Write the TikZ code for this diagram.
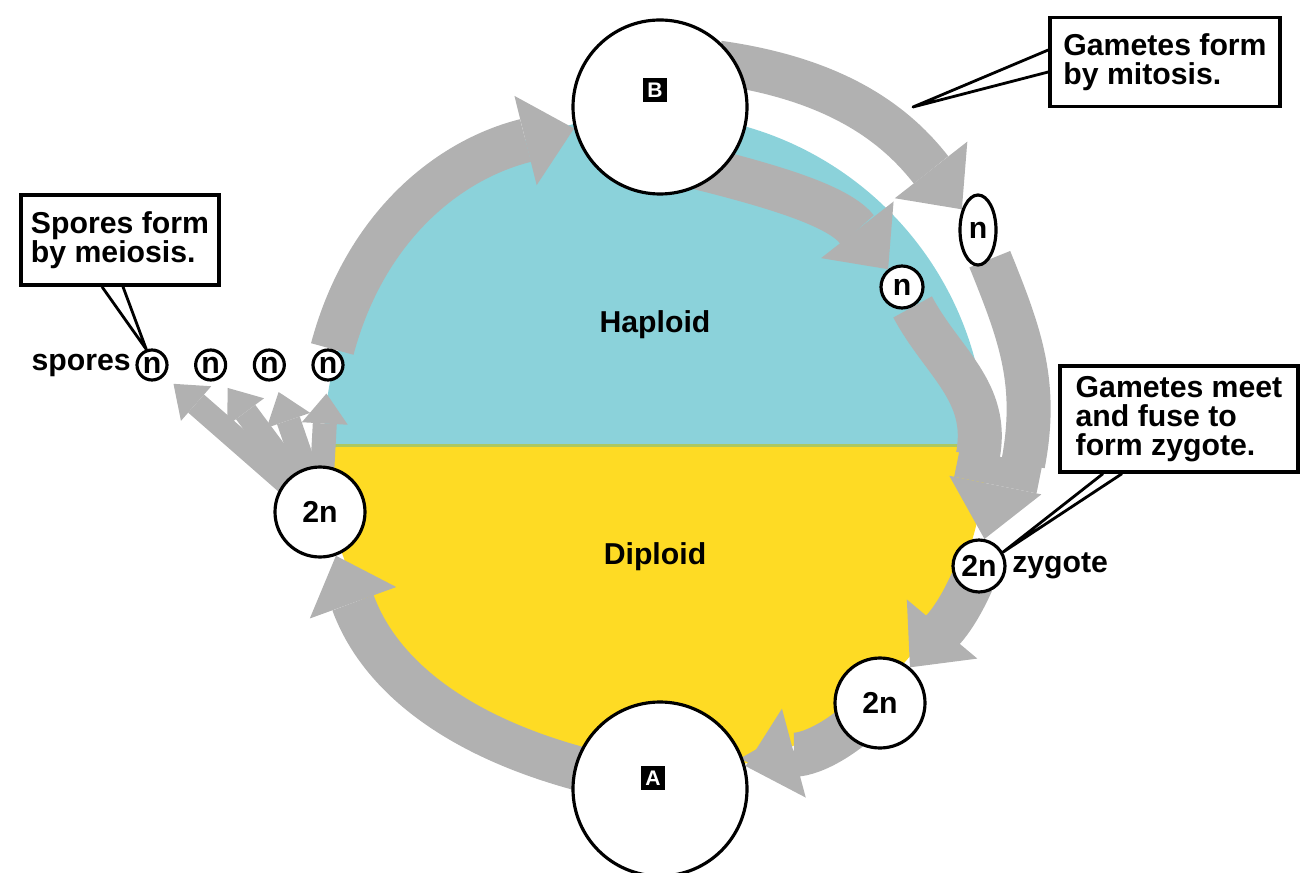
\documentclass[tikz,border=0pt]{standalone}
\usepackage{fontspec}
\newfontfamily\figfont{Liberation Sans}
\usepackage{tikz}
\usetikzlibrary{arrows.meta,positioning,shapes.geometric}
\definecolor{hapcyan}{RGB}{139,210,218}
\definecolor{dipyellow}{RGB}{254,219,36}
\definecolor{flowgray}{RGB}{177,177,177}
\definecolor{seam}{RGB}{172,200,96}
\pgfdeclarelayer{discs}
\pgfdeclarelayer{flows}
\pgfsetlayers{discs,flows,main}

\begin{document}
\begin{tikzpicture}[
	font = \figfont\bfseries\fontsize{8.6}{8.3}\selectfont,
	cell/.style = {circle, draw, line width=0.9pt, fill=white, inner sep=0pt},
	bigcell/.style = {cell, minimum size=17.4mm},
	spore/.style = {cell, minimum size=3mm},
	tagbox/.style = {fill=black, text=white, inner sep=0pt, minimum size=2.4mm,
		font=\figfont\bfseries\fontsize{6}{6}\selectfont},
	note/.style = {draw, line width=1pt, fill=white, align=left, inner sep=1mm},
	pointer/.style = {line width=0.8pt, line join=round},
	band/.style = {color=flowgray, line width=4.4mm},
	flow/.style = {band, -{Triangle[length=5mm,width=9.2mm,line width=0pt]}},
	flowhead/.style = {color=flowgray, line width=8.4mm, -{Triangle[length=5.5mm,width=9.4mm,line width=0pt]}},
	fan/.style = {color=flowgray, line width=2.4mm, -{Triangle[length=3mm,width=4.6mm,line width=0pt]},
		shorten >=1.2mm, shorten <=-1mm,
		preaction={draw=white, line width=2.8mm, -{Triangle[length=3.4mm,width=5.2mm,line width=0pt,fill=white]}}}
	]
	\useasboundingbox (-6.55,-4.27) rectangle (6.45,4.45);
	
	% haploid / diploid halves
	\begin{pgfonlayer}{discs}
	\fill[hapcyan] (3.31,0) arc[start angle=0, end angle=180, radius=3.31] -- cycle;
	\fill[dipyellow] (-3.31,0) arc[start angle=180, end angle=360, radius=3.31] -- cycle;
	\draw[seam, line width=0.3mm] (-3.31,0) -- (3.31,0);
	\end{pgfonlayer}
	
	\node (hap) at (0,1.20) {Haploid};
	\node (dip) at (0,-1.12) {Diploid};
	
	\node (B) [bigcell] at (0.05,3.38) {};
	\node (A) [bigcell] at (0.05,-3.44) {};
	\node (tagB) [tagbox] at (0.00,3.55) {B};
	\node (tagA) [tagbox] at (-0.02,-3.33) {A};
	
	\node (n1) [cell, minimum size=4.2mm] at (2.47,1.58) {n};
	\node (ne) [ellipse, draw, line width=0.9pt, fill=white, inner sep=0pt,
		minimum width=3.6mm, minimum height=7mm] at (3.23,2.15) {n};
	\node (zyg) [cell, minimum size=5.2mm] at (3.24,-1.21) {2n};
	\node (m2n) [cell, minimum size=9mm] at (2.25,-2.58) {2n};
	\node (l2n) [cell, minimum size=9mm] at (-3.35,-0.67) {2n};
	
	\node (s1) [spore] at (-5.03,0.80) {n};
	\node (s2) [spore, right=2.55mm of s1] {n};
	\node (s3) [spore, right=2.55mm of s2] {n};
	\node (s4) [spore, right=2.55mm of s3] {n};
	
	\node (sptxt) [left=0.4mm of s1, inner sep=0pt] {spores};
	\node (zytxt) [right=0.5mm of zyg, inner sep=0pt] {zygote};
	
	\coordinate (merge) at (3.46,-0.12);
	\coordinate (mergein) at (3.234,-0.077);
	\coordinate (mergeout) at (3.686,-0.163);
	
	% the cycle
	\begin{pgfonlayer}{flows}
	\path[flow]
	(s4)    edge [out=75, in=194]  (B)
	(B.-48) edge [out=-14, in=128, shorten <=-2mm]  (n1)
	(B.28)  edge [out=-8, in=128, shorten <=-2mm]   (ne)
	(zyg)   edge [out=-114, in=50, shorten <=-1mm]  (m2n)
	(m2n)   edge [out=-139, in=15, shorten <=-2mm]  (A)
	(A)     edge [out=166, in=-70, shorten <=-2mm]  (l2n);
	
	\path[band]
	(n1) edge [out=-62, in=79.2, shorten >=-0.3mm] (mergein)
	(ne) edge [out=-68, in=79.2, shorten >=-0.3mm] (mergeout);
	\path[flowhead] (merge) edge (zyg);
	
	\path[fan]
	(l2n) edge (s1)
	(l2n) edge (s2)
	(l2n) edge (s3)
	(l2n) edge (s4);
	\end{pgfonlayer}
	
	% callouts
	\node (boxmit) [note, minimum width=23mm, minimum height=8.9mm] at (5.10,3.83) {Gametes form\\by mitosis.};
	\node (boxmei) [note, minimum width=19.5mm, minimum height=9mm] at (-5.35,2.05) {Spores form\\by meiosis.};
	\node (boxfus) [note, minimum width=23.8mm, minimum height=9.8mm] at (5.24,0.26) {Gametes meet\\and fuse to\\form zygote.};
	
	\coordinate (ptrmit) at (2.58,3.38);
	\draw[pointer] ([yshift=1.2mm]boxmit.west) -- (ptrmit) -- ([yshift=-1.0mm]boxmit.west);
	\draw[pointer] ([xshift=-1.8mm]boxmei.south) -- (s1.110) -- ([xshift=0.3mm]boxmei.south);
	\draw[pointer] ([xshift=-7.6mm]boxfus.south) -- (zyg.30) -- ([xshift=-5.7mm]boxfus.south);
\end{tikzpicture}
\end{document}
